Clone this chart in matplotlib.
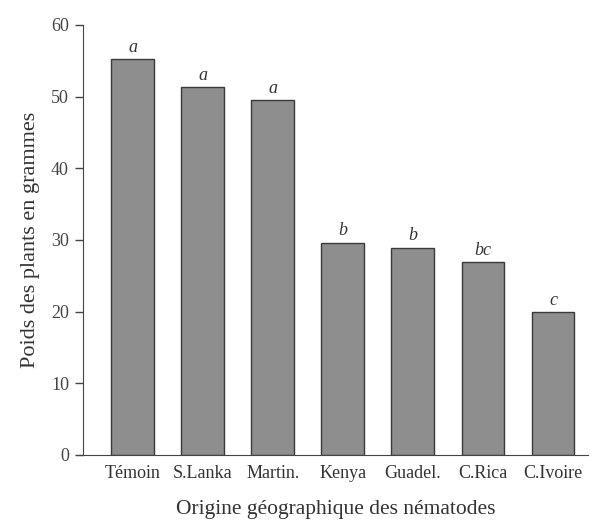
import matplotlib.pyplot as plt
import numpy as np

origines = ['Témoin', 'S.Lanka', 'Martin.', 'Kenya', 'Guadel.', 'C.Rica', 'C.Ivoire']
poids = [55.2, 51.3, 49.5, 29.6, 28.9, 26.9, 19.9]
groupes = ['a', 'a', 'a', 'b', 'b', 'bc', 'c']
yticks = [0, 10, 20, 30, 40, 50, 60]

plt.rcParams['font.family'] = ['Liberation Serif', 'DejaVu Serif']

fig = plt.figure(figsize=(6, 5.26), dpi=100)
ax = fig.add_axes([0.138, 0.135, 0.842, 0.8175])

x = np.arange(len(origines))
ax.bar(x, poids, width=0.61, color='#8e8e8e', edgecolor='#3a3a3a', linewidth=1.0)
for xi, v, g in zip(x, poids, groupes):
    ax.text(xi, v + 0.5, g, ha='center', va='bottom', fontsize=13,
            style='italic', color='#333333')

ax.set_xlim(-0.71, 6.5)
ax.set_ylim(0, 60)
ax.set_yticks(yticks)
ax.set_xticks(x)
ax.set_xticklabels(origines, fontsize=13, color='#333333')
ax.tick_params(axis='x', length=0, pad=7)
ax.tick_params(axis='y', direction='out', length=6, width=1, colors='#444444',
               labelsize=13, pad=4)
for s in ['top', 'right']:
    ax.spines[s].set_visible(False)
ax.spines['left'].set_color('#444444')
ax.spines['bottom'].set_color('#444444')
ax.spines['bottom'].set_bounds(-0.8, 6.5)

ax.set_ylabel('Poids des plants en grammes', fontsize=16, color='#333333', labelpad=8)
ax.set_xlabel('Origine géographique des nématodes', fontsize=15.5, color='#333333', labelpad=13)

fig.savefig('out.png', dpi=100)
